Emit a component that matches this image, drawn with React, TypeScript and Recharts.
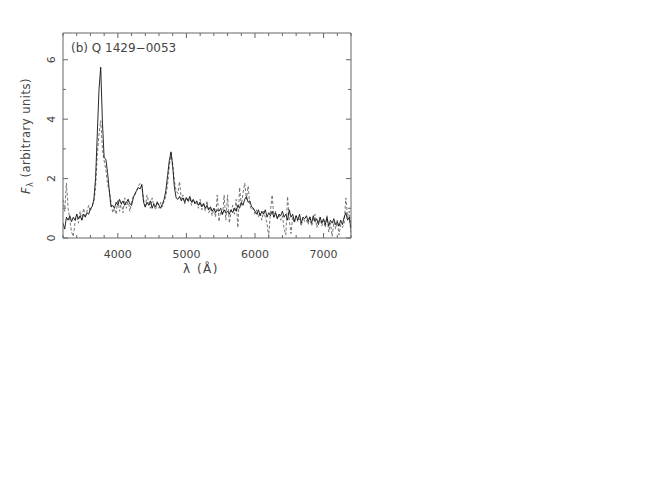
import { Line, LineChart, XAxis, YAxis } from 'recharts';

// wavelength grid, 25 A steps from 3200 to 7400
const waveStart = 3200;
const waveStep = 25;

// solid spectrum
const solidFlux = [
  0.5, 0.3, 0.7, 0.6, 0.75, 0.55, 0.7, 0.6,
  0.8, 0.65, 0.75, 0.6, 0.8, 0.7, 0.85, 0.8,
  1.0, 1.05, 1.3, 2.0, 3.5, 5.0, 5.75, 3.9,
  2.7, 2.65, 2.2, 1.6, 1.05, 1.1, 1.0, 1.2,
  1.1, 1.3, 1.15, 1.25, 1.1, 1.2, 1.3, 1.15,
  1.1, 1.35, 1.5, 1.6, 1.7, 1.65, 1.8, 1.2,
  1.05, 1.2, 1.1, 1.25, 1.0, 1.15, 1.05, 1.2,
  1.1, 1.0, 1.15, 1.3, 1.6, 2.1, 2.6, 2.9,
  2.4, 1.7, 1.35, 1.3, 1.4, 1.25, 1.35, 1.2,
  1.35, 1.25, 1.4, 1.2, 1.3, 1.15, 1.25, 1.1,
  1.2, 1.05, 1.15, 1.0, 1.1, 0.95, 1.05, 0.9,
  1.0, 0.85, 0.95, 0.9, 1.0, 0.8, 0.95, 0.85,
  0.9, 0.8, 0.95, 0.85, 1.0, 0.9, 1.1, 1.0,
  1.2, 1.1, 1.3, 1.4, 1.2, 1.25, 1.05, 1.0,
  0.9, 0.8, 0.95, 0.75, 0.9, 0.8, 0.95, 0.7,
  0.85, 0.75, 0.9, 0.7, 0.85, 0.65, 0.8, 0.75,
  0.9, 0.7, 0.8, 0.6, 0.95, 0.7, 0.8, 0.55,
  0.75, 0.6, 0.8, 0.5, 0.7, 0.65, 0.75, 0.55,
  0.7, 0.5, 0.75, 0.55, 0.65, 0.45, 0.7, 0.5,
  0.65, 0.45, 0.7, 0.4, 0.6, 0.5, 0.65, 0.45,
  0.55, 0.4, 0.6, 0.45, 0.7, 0.85, 0.6, 0.7,
  0.3,
];

// dashed comparison spectrum
const dashedFlux = [
  1.3, 0.9, 1.85, 1.0, 0.6, 0.2, 0.05, 0.5,
  0.8, 0.5, 0.9, 0.6, 1.0, 0.75, 0.9, 1.1,
  0.9, 1.1, 1.2, 1.7, 2.8, 3.5, 3.95, 3.0,
  2.6, 2.3, 1.8, 1.6, 1.2, 0.85, 1.0, 0.8,
  1.3, 0.9, 1.2, 0.85, 1.35, 1.0, 1.3, 0.9,
  1.2, 1.4, 1.45, 1.6, 1.75, 1.85, 1.75, 1.3,
  1.0, 1.45, 1.2, 1.0, 1.35, 1.1, 0.95, 1.25,
  1.0, 1.2, 1.05, 1.25, 1.4, 1.8, 2.4, 2.85,
  2.5, 1.9, 1.6, 1.5, 1.9, 1.3, 1.45, 1.15,
  1.4, 1.2, 1.35, 1.1, 1.3, 1.15, 1.2, 1.0,
  1.3, 0.95, 1.2, 0.9, 1.25, 0.85, 1.0, 0.75,
  1.0, 0.7, 1.45, 0.55, 0.9, 0.75, 1.45, 0.6,
  1.45, 0.5, 0.85, 1.1, 0.8, 1.3, 0.35, 1.7,
  1.1, 1.5, 1.85, 1.3, 1.75, 1.1, 0.95, 1.0,
  0.8, 0.95, 0.7, 0.85, 0.6, 0.9, 0.7, 0.5,
  0.05, 0.9, 1.45, 0.7, 0.9, 0.65, 0.8, 0.6,
  0.75, 0.3, 0.1, 1.4, 0.6, 0.15, 0.7, 0.5,
  0.75, 0.55, 0.65, 0.4, 0.7, 0.55, 0.6, 0.45,
  0.75, 0.4, 0.6, 0.8, 0.35, 0.55, 0.7, 0.4,
  0.6, 0.35, 0.75, 0.2, 0.5, 0.05, 0.55, 0.3,
  0.6, 0.1, 0.45, 0.35, 0.5, 1.35, 0.7, 0.9,
  0.1,
];

const xTicks = [
  3200, 3400, 3600, 3800, 4000, 4200, 4400, 4600, 4800, 5000, 5200,
  5400, 5600, 5800, 6000, 6200, 6400, 6600, 6800, 7000, 7200, 7400,
];
const yTicks = [0, 1, 2, 3, 4, 5, 6];

const data = solidFlux.map((s, i) => ({
  w: waveStart + i * waveStep,
  s,
  d: dashedFlux[i],
}));

const W = 660;
const H = 498;
// plot box in page pixels
const TOP = 33;
const BOTTOM = 238;
const LEFT = 63;
const RIGHT = 351;
const AXW = 30; // space given to each axis
const M = { top: TOP - AXW, right: W - RIGHT - AXW, bottom: H - BOTTOM - AXW, left: LEFT - AXW };

const FONT = '"DejaVu Sans", sans-serif';
const INK = '#444';
const FRAME = '#666';

function tickLen(major: boolean) {
  return major ? 5 : 3;
}

const BottomTick = (props: any) => {
  const { x, payload } = props;
  const major = payload.value % 1000 === 0;
  return (
    <g>
      <line x1={x} x2={x} y1={BOTTOM} y2={BOTTOM - tickLen(major)} stroke={FRAME} />
      {major && (
        <text x={x} y={BOTTOM + 20} textAnchor="middle" fontSize={11} fill={INK} fontFamily={FONT}>
          {payload.value}
        </text>
      )}
    </g>
  );
};

const TopTick = (props: any) => {
  const { x, payload } = props;
  const major = payload.value % 1000 === 0;
  return <line x1={x} x2={x} y1={TOP} y2={TOP + tickLen(major)} stroke={FRAME} />;
};

const LeftTick = (props: any) => {
  const { y, payload } = props;
  const major = payload.value % 2 === 0;
  const tx = LEFT - 8;
  return (
    <g>
      <line x1={LEFT} x2={LEFT + tickLen(major)} y1={y} y2={y} stroke={FRAME} />
      {major && (
        <text
          x={tx}
          y={y}
          transform={`rotate(-90 ${tx} ${y})`}
          textAnchor="middle"
          fontSize={11}
          fill={INK}
          fontFamily={FONT}
        >
          {payload.value}
        </text>
      )}
    </g>
  );
};

const RightTick = (props: any) => {
  const { y, payload } = props;
  const major = payload.value % 2 === 0;
  return <line x1={RIGHT} x2={RIGHT - tickLen(major)} y1={y} y2={y} stroke={FRAME} />;
};

export default function App() {
  return (
    <div style={{ position: 'absolute', left: 0, top: 0, width: W, height: H, background: '#fff' }}>
      <LineChart width={W} height={H} data={data} margin={M}>
        <XAxis
          xAxisId="b"
          dataKey="w"
          type="number"
          domain={[3200, 7400]}
          ticks={xTicks}
          allowDataOverflow
          height={AXW}
          tickLine={false}
          axisLine={{ stroke: FRAME }}
          tick={<BottomTick />}
          interval={0}
        />
        <XAxis
          xAxisId="t"
          orientation="top"
          dataKey="w"
          type="number"
          domain={[3200, 7400]}
          ticks={xTicks}
          allowDataOverflow
          height={AXW}
          tickLine={false}
          axisLine={{ stroke: FRAME }}
          tick={<TopTick />}
          interval={0}
        />
        <YAxis
          yAxisId="l"
          type="number"
          domain={[0, 6.9]}
          ticks={yTicks}
          allowDataOverflow
          width={AXW}
          tickLine={false}
          axisLine={{ stroke: FRAME }}
          tick={<LeftTick />}
          interval={0}
        />
        <YAxis
          yAxisId="r"
          orientation="right"
          type="number"
          domain={[0, 6.9]}
          ticks={yTicks}
          allowDataOverflow
          width={AXW}
          tickLine={false}
          axisLine={{ stroke: FRAME }}
          tick={<RightTick />}
          interval={0}
        />
        <Line
          xAxisId="b"
          yAxisId="l"
          dataKey="d"
          type="linear"
          stroke="#666"
          strokeWidth={0.9}
          strokeDasharray="3 2"
          dot={false}
          isAnimationActive={false}
        />
        <Line
          xAxisId="b"
          yAxisId="l"
          dataKey="s"
          type="linear"
          stroke="#111"
          strokeWidth={0.9}
          dot={false}
          isAnimationActive={false}
        />
      </LineChart>
      <div
        style={{
          position: 'absolute',
          left: 71,
          top: 41,
          fontFamily: FONT,
          fontSize: 12,
          color: INK,
          whiteSpace: 'nowrap',
        }}
      >
        (b) Q 1429−0053
      </div>
      <div
        style={{
          position: 'absolute',
          left: 201,
          top: 262,
          transform: 'translateX(-50%)',
          fontFamily: FONT,
          fontSize: 12,
          color: INK,
          letterSpacing: 1.5,
          whiteSpace: 'nowrap',
        }}
      >
        λ (Å)
      </div>
      <div
        style={{
          position: 'absolute',
          left: 27,
          top: 136,
          transform: 'translate(-50%, -50%) rotate(-90deg)',
          fontFamily: FONT,
          fontSize: 11.5,
          color: INK,
          letterSpacing: 0.5,
          whiteSpace: 'nowrap',
        }}
      >
        <i>F</i>
        <sub style={{ fontSize: 8 }}>λ</sub> (arbitrary units)
      </div>
    </div>
  );
}
